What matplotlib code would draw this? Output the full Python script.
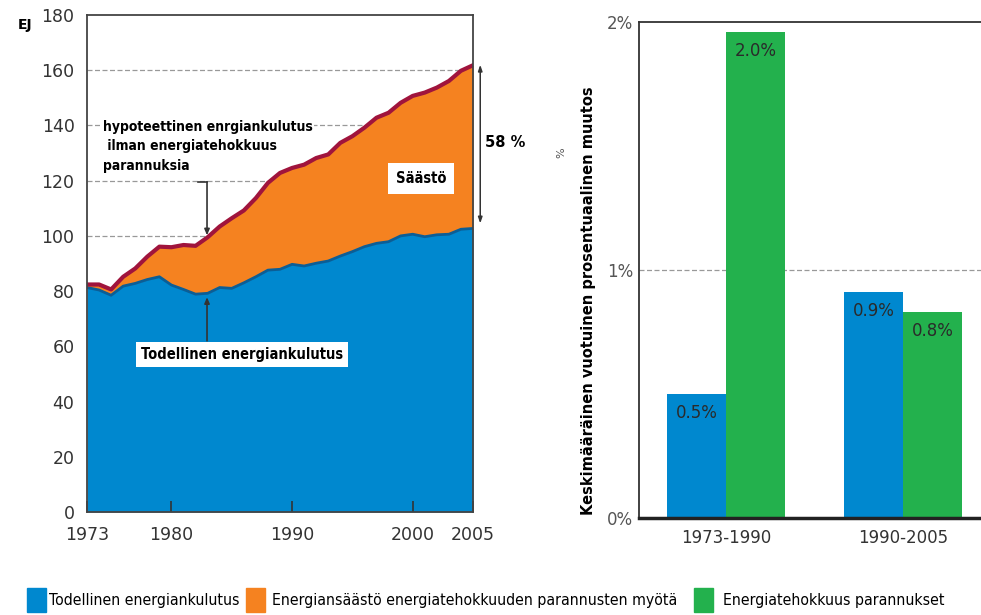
import matplotlib
matplotlib.use("Agg")
import matplotlib.pyplot as plt
from matplotlib.patches import Rectangle

# ---------------- data ----------------
years = list(range(1973, 2006))
actual = [81.3, 80.4, 78.5, 81.8, 82.8, 84.2, 85.2, 82.2, 80.6, 78.9, 79.2,
          81.3, 81.0, 83.0, 85.2, 87.6, 87.9, 89.7, 89.1, 90.1, 90.9, 92.7,
          94.3, 96.1, 97.3, 97.9, 100.0, 100.6, 99.7, 100.4, 100.6, 102.4, 102.7]
hypothetical = [82.4, 82.4, 80.6, 85.2, 88.2, 92.5, 96.1, 95.9, 96.7, 96.4, 99.5,
                103.4, 106.4, 109.2, 113.7, 119.2, 122.8, 124.6, 125.8, 128.2, 129.5, 133.7,
                136.1, 139.2, 142.8, 144.6, 148.2, 150.7, 151.9, 153.7, 156.1, 159.8, 161.8]
left_yticks = [0, 20, 40, 60, 80, 100, 120, 140, 160, 180]
left_xticks = [1973, 1980, 1990, 2000, 2005]

periods = ["1973-1990", "1990-2005"]
actual_change = [0.50, 0.91]
efficiency_change = [1.96, 0.83]
actual_labels = ["0.5%", "0.9%"]
efficiency_labels = ["2.0%", "0.8%"]
right_yticks = [0, 1, 2]
right_yticklabels = ["0%", "1%", "2%"]

legend_labels = ["Todellinen energiankulutus",
                 "Energiansäästö energiatehokkuuden parannusten myötä",
                 "Energiatehokkuus parannukset"]

BLUE = "#0088CF"
BLUE_EDGE = "#0B5E96"
ORANGE = "#F58220"
GREEN = "#23B14D"
RED = "#A0143C"
TICKC = "#333333"

W, H = 981, 615
fig = plt.figure(figsize=(W / 100, H / 100), dpi=100)

def fx(px):
    return px / W

def fy(py):
    return 1 - py / H

# ---------------- left chart ----------------
ax = fig.add_axes([fx(87), fy(512), fx(473) - fx(87), fy(15) - fy(512)])
ax.set_xlim(1973, 2005)
ax.set_ylim(0, 180)
for g in [100, 120, 140, 160]:
    ax.axhline(g, color="#999999", lw=0.9, ls=(0, (4, 2)), zorder=0)
ax.fill_between(years, 0, actual, color=BLUE, lw=0, zorder=1)
ax.fill_between(years, actual, hypothetical, color=ORANGE, lw=0, zorder=1)
ax.plot(years, actual, color=BLUE_EDGE, lw=2.0, zorder=2, solid_joinstyle="round")
ax.plot(years, hypothetical, color=RED, lw=3.0, zorder=3, solid_joinstyle="round")

ax.set_yticks(left_yticks)
ax.set_yticklabels([str(v) for v in left_yticks])
ax.set_xticks(left_xticks)
ax.set_xticklabels([str(v) for v in left_xticks])
ax.tick_params(axis="y", length=0, pad=9, labelsize=12.5, labelcolor=TICKC)
ax.tick_params(axis="x", direction="in", length=8, width=1.2, color="#333333",
               pad=10, labelsize=12.5, labelcolor=TICKC)
for s in ax.spines.values():
    s.set_color("#444444")
    s.set_linewidth(1.3)
    s.set_zorder(5)

fig.text(fx(18), fy(25), "EJ", fontsize=10, fontweight="bold", ha="left", va="center")

ax.text(1974.33, 142.0, "hypoteettinen enrgiankulutus\n ilman energiatehokkuus\nparannuksia",
        fontsize=10, fontweight="bold", ha="left", va="top", linespacing=1.5,
        fontstretch="condensed", zorder=0.5,
        bbox=dict(boxstyle="square,pad=0.1", fc="white", ec="none"))
ax.plot([1982.2, 1982.95], [119.6, 119.6], color="#333333", lw=1.2, zorder=6)
ax.annotate("", xy=(1982.95, 100.2), xytext=(1982.95, 119.6),
            arrowprops=dict(arrowstyle="-|>,head_length=0.35,head_width=0.15",
                            color="#333333", lw=1.2, shrinkA=0, shrinkB=0), zorder=6)

ax.annotate("", xy=(1982.95, 77.8), xytext=(1982.95, 62.0),
            arrowprops=dict(arrowstyle="-|>,head_length=0.35,head_width=0.15",
                            color="#333333", lw=1.2, shrinkA=0, shrinkB=0), zorder=6)
ax.text(1985.85, 57.0, "Todellinen energiankulutus", fontsize=10.5, fontweight="bold",
        ha="center", va="center", fontstretch="condensed", zorder=7,
        bbox=dict(boxstyle="square,pad=0.35", fc="white", ec="none"))

ax.text(2000.7, 120.7, "Säästö", fontsize=10.5, fontweight="bold", ha="center", va="center",
        fontstretch="condensed", zorder=7,
        bbox=dict(boxstyle="square,pad=0.55", fc="white", ec="none"))

ax.annotate("", xy=(2005.6, 162.0), xytext=(2005.6, 104.5), xycoords="data",
            arrowprops=dict(arrowstyle="<|-|>,head_length=0.35,head_width=0.12",
                            color="#333333", lw=1.1, shrinkA=0, shrinkB=0),
            annotation_clip=False)
ax.text(2007.7, 133.8, "58 %", fontsize=10.5, fontweight="bold", ha="center", va="center",
        clip_on=False)

# ---------------- right chart ----------------
ax2 = fig.add_axes([fx(639), fy(518), 1 - fx(639), fy(22) - fy(518)])
ax2.set_xlim(-0.4915, 1.441)
ax2.set_ylim(0, 1.99)
ax2.axhline(1, color="#999999", lw=0.9, ls=(0, (4, 2)), zorder=0)
x = list(range(len(periods)))
bw = 0.333
ax2.bar([i - bw / 2 for i in x], actual_change, width=bw, color=BLUE, zorder=2)
ax2.bar([i + bw / 2 for i in x], efficiency_change, width=bw, color=GREEN, zorder=2)
for i in x:
    ax2.text(i - bw / 2, actual_change[i] - 0.075, actual_labels[i], ha="center", va="center",
             fontsize=12, color="#2a2a2a", zorder=3)
    ax2.text(i + bw / 2, efficiency_change[i] - 0.075, efficiency_labels[i], ha="center",
             va="center", fontsize=12, color="#2a2a2a", zorder=3)
ax2.set_xticks(x)
ax2.set_xticklabels(periods)
ax2.set_yticks(right_yticks)
ax2.set_yticklabels(right_yticklabels)
ax2.tick_params(axis="x", length=0, pad=8, labelsize=12, labelcolor=TICKC)
ax2.tick_params(axis="y", length=0, pad=4, labelsize=12, labelcolor="#555555")
ax2.spines["right"].set_visible(False)
ax2.spines["left"].set_color("#333333")
ax2.spines["left"].set_linewidth(1.3)
ax2.spines["top"].set_color("#333333")
ax2.spines["top"].set_linewidth(1.3)
ax2.spines["bottom"].set_color("#222222")
ax2.spines["bottom"].set_linewidth(2.5)

fig.text(fx(589), fy(301), "Keskimääräinen vuotuinen prosentuaalinen muutos", rotation=90,
         fontsize=10.5, fontweight="bold", ha="center", va="center")
fig.text(fx(561), fy(153), "%", rotation=90, fontsize=8, color="#555555",
         ha="center", va="center")

# ---------------- legend ----------------
legend_colors = [BLUE, ORANGE, GREEN]
sq_x = [27, 246, 694]
txt_x = [49, 272, 723]
legend_sizes = [11.3, 11.3, 11.3]
for c, sx, tx, lab, fs in zip(legend_colors, sq_x, txt_x, legend_labels, legend_sizes):
    fig.patches.append(Rectangle((fx(sx), fy(612)), fx(19), fy(588) - fy(612),
                                 transform=fig.transFigure, color=c))
    fig.text(fx(tx), fy(601), lab, fontsize=fs, ha="left", va="center",
             fontstretch="condensed")

fig.savefig("out.png", dpi=100)
